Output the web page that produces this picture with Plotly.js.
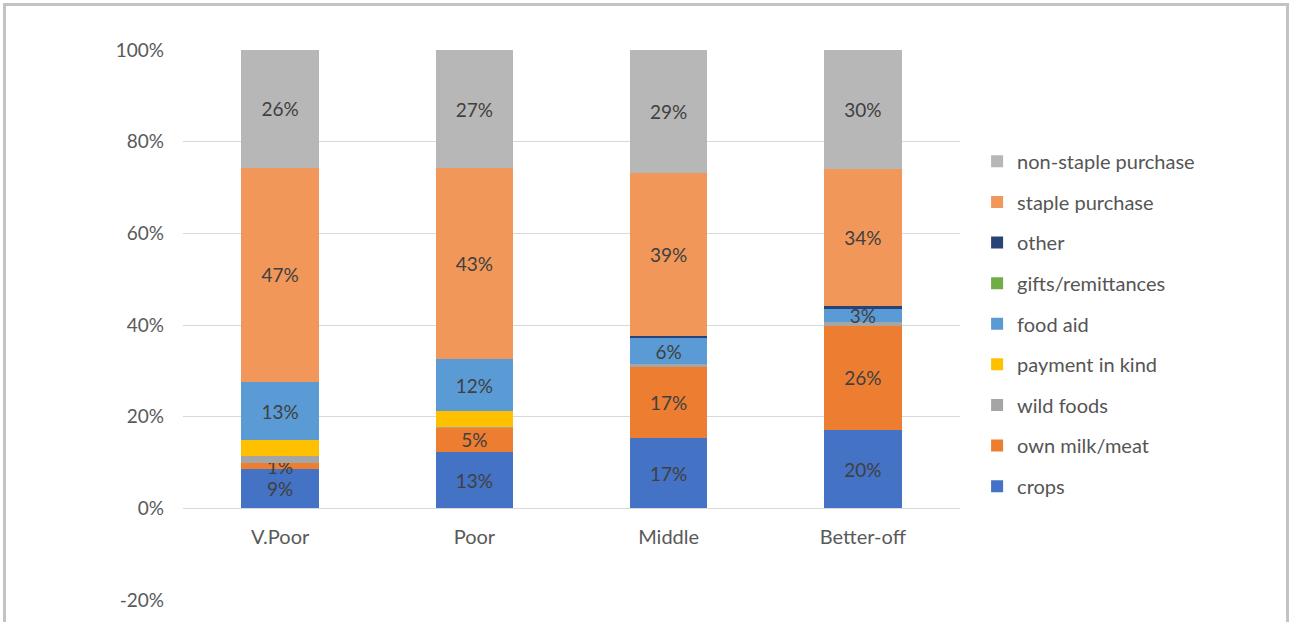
<!DOCTYPE html>
<html>
<head>
<meta charset="utf-8">
<script src="https://cdn.plot.ly/plotly-3.0.1.min.js"></script>
<style>
  html, body { margin: 0; padding: 0; background: #ffffff; }
  #frame { position: absolute; left: 3px; top: 3px; width: 1280px; height: 660px;
           border: 3px solid #c3c3c3; border-bottom: none; pointer-events: none; }
  #chart { position: absolute; left: 0; top: 0; width: 1290px; height: 622px; }
</style>
</head>
<body>
<div id="chart"></div>
<div id="frame"></div>
<script>
// ---- data (raw shares; the chart is a 100% stacked column chart) ----
const categories = ['V.Poor', 'Poor', 'Middle', 'Better-off'];

const crops             = [8.6, 12.8, 16.8, 19.6];
const ownMilkMeat       = [1.4, 5.4, 16.9, 26.1];
const wildFoods         = [1.5, 0.3, 0.6, 0.9];
const paymentInKind     = [3.5, 3.5, 0, 0];
const foodAid           = [12.9, 11.8, 6.2, 3.3];
const giftsRemittances  = [0, 0, 0, 0];
const other             = [0, 0, 0.5, 0.7];
const staplePurchase    = [47.3, 43.2, 38.8, 34.2];
const nonStaplePurchase = [26.0, 26.8, 29.4, 29.9];

const yTickVals = [-20, 0, 20, 40, 60, 80, 100];
const yTickText = ['-20%', '0%', '20%', '40%', '60%', '80%', '100%'];

// ---- series definitions ----
const series = [
  {name: 'crops',              y: crops,             color: '#4472C4', labels: true},
  {name: 'own milk/meat',      y: ownMilkMeat,       color: '#ED7D31', labels: true},
  {name: 'wild foods',         y: wildFoods,         color: '#A5A5A5', labels: false},
  {name: 'payment in kind',    y: paymentInKind,     color: '#FFC000', labels: false},
  {name: 'food aid',           y: foodAid,           color: '#5B9BD5', labels: true},
  {name: 'gifts/remittances',  y: giftsRemittances,  color: '#70AD47', labels: false},
  {name: 'other',              y: other,             color: '#264478', labels: false},
  {name: 'staple purchase',    y: staplePurchase,    color: '#F1975A', labels: true},
  {name: 'non-staple purchase',y: nonStaplePurchase, color: '#B7B7B7', labels: true}
];

const FONT = 'Lato, "Open Sans", sans-serif';

const traces = series.map((s, i) => ({
  type: 'bar',
  name: s.name,
  x: categories,
  y: s.y,
  legendgroup: s.name,
  legendrank: 1000 - i,
  marker: {color: s.color, line: {width: 0}},
  text: s.labels ? s.y.map(v => v > 0 ? Math.round(v) + '%' : '') : s.y.map(() => ''),
  textposition: s.labels ? 'inside' : 'none',
  insidetextanchor: 'middle',
  textangle: 0,
  constraintext: 'none',
  textfont: {family: FONT, size: 19, color: '#404040'},
  hoverinfo: 'skip'
}));

const yMin = -20, yMax = 100;

const layout = {
  width: 1290,
  height: 622,
  margin: {l: 183, r: 330, t: 50, b: 22},
  paper_bgcolor: 'rgba(0,0,0,0)',
  plot_bgcolor: 'rgba(0,0,0,0)',
  barmode: 'stack',
  barnorm: 'percent',
  bargap: 0.6,
  showlegend: true,
  font: {family: FONT, size: 19, color: '#595959'},
  uniformtext: {mode: 'show', minsize: 19},
  xaxis: {
    type: 'category',
    anchor: 'free',
    position: (0 - yMin) / (yMax - yMin),
    showgrid: false,
    showline: false,
    zeroline: false,
    ticks: '',
    ticklabelstandoff: 15,
    tickfont: {family: FONT, size: 20, color: '#595959'}
  },
  yaxis: {
    range: [yMin, yMax],
    tickvals: yTickVals,
    ticktext: yTickText,
    showgrid: true,
    gridcolor: '#D9D9D9',
    gridwidth: 1,
    zeroline: true,
    zerolinecolor: '#D9D9D9',
    zerolinewidth: 1,
    showline: false,
    ticks: '',
    ticklabelstandoff: 18,
    tickfont: {family: FONT, size: 19, color: '#595959'}
  },
  legend: {
    x: 1.022,
    xanchor: 'left',
    y: 0.833,
    yanchor: 'top',
    traceorder: 'grouped',
    tracegroupgap: 11.6,
    font: {family: FONT, size: 20, color: '#555555'},
    bgcolor: 'rgba(0,0,0,0)'
  }
};

Plotly.newPlot('chart', traces, layout, {displayModeBar: false, staticPlot: true});
</script>
</body>
</html>
